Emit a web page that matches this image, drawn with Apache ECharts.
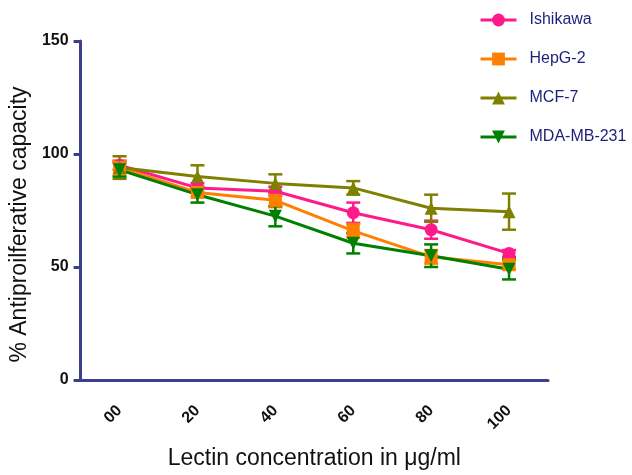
<!DOCTYPE html>
<html><head><meta charset="utf-8">
<script src="https://cdn.jsdelivr.net/npm/echarts@6/dist/echarts.min.js"></script>
<style>html,body{margin:0;padding:0;background:#fff}#c{width:632px;height:475px}</style>
</head><body><div id="c"></div>
<script>
const categories = ['00','20','40','60','80','100'];
const yTicks = [0, 50, 100, 150];
const ishikawa = [95, 85, 83.5, 74, 66.5, 56];
const ishikawaErr = [2, 2, 2, 4.5, 4, 1.5];
const hepg2 = [94, 83, 79.5, 66, 54.5, 51];
const hepg2Err = [3, 2, 3, 3, 3, 2];
const mcf7 = [94, 90, 87, 85, 76, 74.5];
const mcf7Err = [5, 5, 4, 3, 6, 8];
const mda = [93, 82, 72.5, 60.5, 55, 49];
const mdaErr = [3, 3.5, 4.5, 4.5, 5, 4.5];

const seriesDefs = [
  {name:'Ishikawa', data:ishikawa, err:ishikawaErr, color:'#FF1A8C', symbol:'circle', rot:0},
  {name:'HepG-2', data:hepg2, err:hepg2Err, color:'#FF8000', symbol:'rect', rot:0},
  {name:'MCF-7', data:mcf7, err:mcf7Err, color:'#808000', symbol:'triangle', rot:0},
  {name:'MDA-MB-231', data:mda, err:mdaErr, color:'#008000', symbol:'triangle', rot:180}
];

const series = [];
seriesDefs.forEach(function(s){
  series.push({
    type:'custom', name:s.name + ' err', silent:true, z:2,
    data: s.data.map(function(v,i){return [i, v - s.err[i], v + s.err[i]];}),
    renderItem: function(params, api){
      const lo = api.coord([api.value(0), api.value(1)]);
      const hi = api.coord([api.value(0), api.value(2)]);
      const w = 7;
      const st = {stroke:s.color, lineWidth:2.5};
      return {type:'group', children:[
        {type:'line', shape:{x1:lo[0],y1:lo[1],x2:hi[0],y2:hi[1]}, style:st},
        {type:'line', shape:{x1:lo[0]-w,y1:lo[1],x2:lo[0]+w,y2:lo[1]}, style:st},
        {type:'line', shape:{x1:hi[0]-w,y1:hi[1],x2:hi[0]+w,y2:hi[1]}, style:st}
      ]};
    }
  });
});
seriesDefs.forEach(function(s){
  series.push({
    type:'line', name:s.name, data:s.data, z:3,
    symbol:s.symbol, symbolRotate:s.rot, symbolSize:13, showAllSymbol:true,
    lineStyle:{color:s.color, width:3},
    itemStyle:{color:s.color},
    emphasis:{disabled:true}
  });
});

const chart = echarts.init(document.getElementById('c'), null, {renderer:'canvas'});
chart.setOption({
  animation:false,
  backgroundColor:'#fff',
  grid:{left:80, right:84, top:41, bottom:92, containLabel:false},
  legend:{
    orient:'vertical', left:474, top:7, itemWidth:36, itemHeight:16, itemGap:23,
    data:seriesDefs.map(function(s){return s.name;}),
    lineStyle:{width:3},
    textStyle:{color:'#1F1F7A', fontFamily:'Arial, Liberation Sans', fontSize:16, padding:[0,0,0,8]}
  },
  xAxis:{
    type:'category', data:categories, boundaryGap:true,
    name:'Lectin concentration in \u03bcg/ml', nameLocation:'middle', nameGap:67,
    nameTextStyle:{color:'#111', fontFamily:'Arial, Liberation Sans', fontSize:23},
    axisLine:{lineStyle:{color:'#3B3F8C', width:3}},
    axisTick:{alignWithLabel:true, length:9, lineStyle:{color:'#3B3F8C', width:3}},
    axisLabel:{rotate:45, margin:28, color:'#111', fontWeight:'bold', fontFamily:'Arial, Liberation Sans', fontSize:16},
    splitLine:{show:false}
  },
  yAxis:{
    type:'value', min:0, max:150, interval:50,
    name:'% Antiproilferative capacity', nameLocation:'middle', nameGap:45,
    nameTextStyle:{color:'#111', fontFamily:'Arial, Liberation Sans', fontSize:23, padding:[0,28,0,0]},
    axisLine:{show:true, lineStyle:{color:'#3B3F8C', width:3}},
    axisTick:{show:true, length:7, lineStyle:{color:'#3B3F8C', width:3}},
    axisLabel:{margin:12, color:'#111', fontWeight:'bold', fontFamily:'Arial, Liberation Sans', fontSize:16,
      formatter:function(v){return yTicks.indexOf(v) >= 0 ? String(v) : '';}},
    splitLine:{show:false}
  },
  series:series
});
</script></body></html>
